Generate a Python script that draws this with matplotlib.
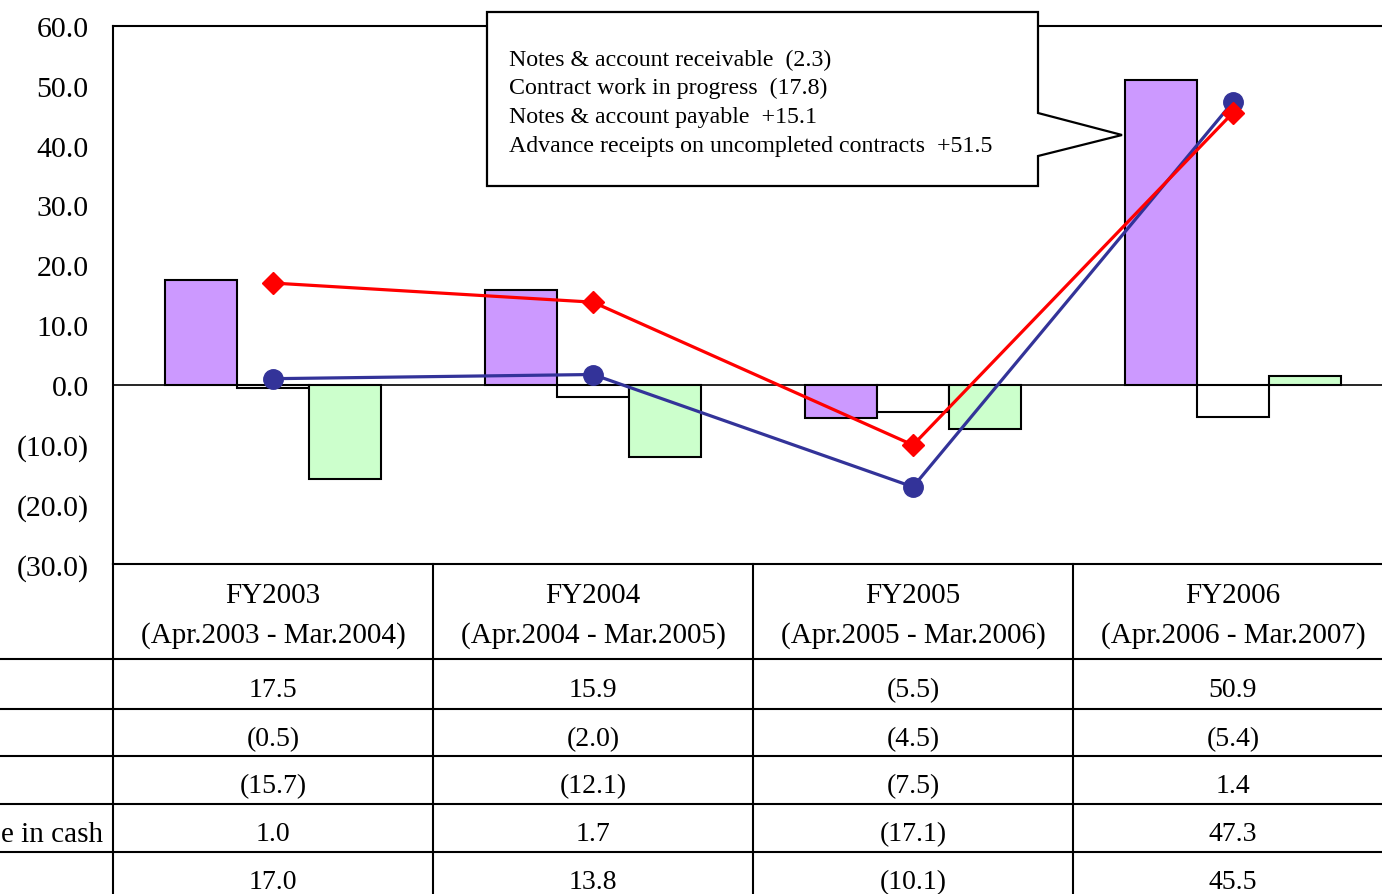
import matplotlib
matplotlib.use("Agg")
import matplotlib.pyplot as plt
from matplotlib.lines import Line2D
from matplotlib.patches import Polygon
import numpy as np

plt.rcParams['font.family'] = ['Liberation Serif', 'DejaVu Serif']

# ---- data ----
periods = ["FY2003\n(Apr.2003 - Mar.2004)", "FY2004\n(Apr.2004 - Mar.2005)",
           "FY2005\n(Apr.2005 - Mar.2006)", "FY2006\n(Apr.2006 - Mar.2007)"]
operating = [17.5, 15.9, -5.5, 50.9]      # purple bars
investing = [-0.5, -2.0, -4.5, -5.4]      # white bars
financing = [-15.7, -12.1, -7.5, 1.4]     # green bars
cash_change = [1.0, 1.7, -17.1, 47.3]     # blue line
free_cf = [17.0, 13.8, -10.1, 45.5]       # red line
row_labels = ["", "", "", "e in cash", ""]
callout_lines = ["Notes & account receivable  (2.3)",
                 "Contract work in progress  (17.8)",
                 "Notes & account payable  +15.1",
                 "Advance receipts on uncompleted contracts  +51.5"]
yticks = [60, 50, 40, 30, 20, 10, 0, -10, -20, -30]

W, H = 1382, 895
fig = plt.figure(figsize=(W / 100, H / 100), dpi=100)

def fx(x):
    return x / W

def fy(y):
    return 1 - y / H

# axes: x 113 -> 1393 px, y 27 -> 565 px
ax = fig.add_axes([fx(113), fy(565), (1393 - 113) / W, (565 - 27) / H])
x = np.arange(len(periods))
bw = 0.225
ax.bar(x - bw, operating, bw, color="#CC99FF", edgecolor="black", linewidth=1.5, zorder=2)
ax.bar(x, investing, bw, color="white", edgecolor="black", linewidth=1.5, zorder=2)
ax.bar(x + bw, financing, bw, color="#CCFFCC", edgecolor="black", linewidth=1.5, zorder=2)
ax.axhline(0, color="black", linewidth=1.2, zorder=1)
ax.plot(x, cash_change, color="#333399", linewidth=2.3, marker="o", markersize=14, zorder=4)
ax.plot(x, free_cf, color="#FF0000", linewidth=2.3, marker="D", markersize=11, zorder=5)

ax.set_xlim(-0.5, len(periods) - 0.5)
ax.set_ylim(-30, 60)
ax.set_yticks(yticks)
ax.set_yticklabels([f"{v:.1f}" if v >= 0 else f"({abs(v):.1f})" for v in yticks], fontsize=21.5)
ax.tick_params(axis="y", length=0, pad=17.5)
ax.set_xticks([])
for s in ax.spines.values():
    s.set_linewidth(1.5)
    s.set_color("black")

# ---- data table ----
def fmt(v):
    return f"{v:.1f}" if v >= 0 else f"({abs(v):.1f})"

lw = 1.5
col_edges = [113 + 320 * i for i in range(len(periods) + 1)]
row_edges = [660, 710, 757, 805, 853, 901]
for cx in col_edges:
    fig.add_artist(Line2D([fx(cx), fx(cx)], [fy(565), fy(900)], color="black", linewidth=lw,
                          transform=fig.transFigure))
for ry in row_edges[:-1]:
    fig.add_artist(Line2D([0, fx(1393)], [fy(ry), fy(ry)], color="black", linewidth=lw,
                          transform=fig.transFigure))
for i, p in enumerate(periods):
    cx = (col_edges[i] + col_edges[i + 1]) / 2
    l1, l2 = p.split("\n")
    fig.text(fx(cx), fy(596), l1, ha="center", va="center", fontsize=21)
    fig.text(fx(cx), fy(636), l2, ha="center", va="center", fontsize=21)
series_rows = [operating, investing, financing, cash_change, free_cf]
for r, vals in enumerate(series_rows):
    cy = (row_edges[r] + row_edges[r + 1]) / 2 + 6
    for i, v in enumerate(vals):
        cx = (col_edges[i] + col_edges[i + 1]) / 2
        fig.text(fx(cx), fy(cy), fmt(v), ha="center", va="center", fontsize=20)
    if row_labels[r]:
        fig.text(fx(103), fy(cy), row_labels[r], ha="right", va="center", fontsize=21)

# ---- callout ----
pts = [(487, 13), (1038, 13), (1038, 114), (1122, 136), (1038, 157), (1038, 187), (487, 187)]
poly = Polygon([(fx(a), fy(b)) for a, b in pts], closed=True, facecolor="white",
               edgecolor="black", linewidth=1.6, transform=fig.transFigure, zorder=10)
fig.add_artist(poly)
for k, t in enumerate(callout_lines):
    fig.text(fx(509), fy(60 + 28.7 * k), t, ha="left", va="center", fontsize=17.2, zorder=11)

fig.savefig("out.png", dpi=100)
